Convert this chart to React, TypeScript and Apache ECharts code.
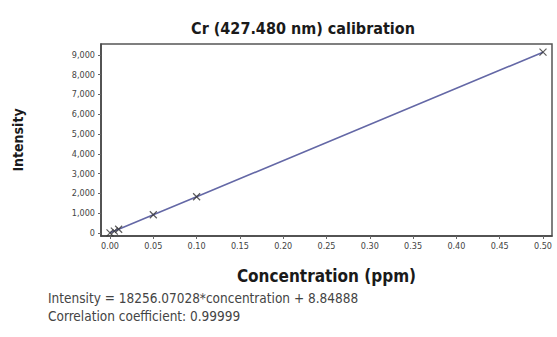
import React, { useEffect, useRef } from "react";
import * as echarts from "echarts";

const concentrations = [0, 0.005, 0.01, 0.05, 0.1, 0.5];
const intensities = [9, 100, 191, 922, 1835, 9137];
const titleText = "Cr (427.480 nm) calibration";
const xName = "Concentration (ppm)";
const yName = "Intensity";
const equationText = "Intensity = 18256.07028*concentration + 8.84888";
const correlationText = "Correlation coefficient: 0.99999";

const FONT = "'Liberation Sans Narrow', 'DejaVu Sans Condensed', 'Arial Narrow', sans-serif";

export default function App() {
  const ref = useRef<HTMLDivElement>(null);
  useEffect(() => {
    if (!ref.current) return;
    const chart = echarts.init(ref.current, undefined, { renderer: "svg" });
    const pts = concentrations.map((c, i) => [c, intensities[i]]);
    chart.setOption({
      animation: false,
      backgroundColor: "#ffffff",
      textStyle: { fontFamily: FONT },
      grid: {
        left: 101,
        top: 44,
        right: 5,
        bottom: 101,
        show: true,
        borderColor: "#555",
        borderWidth: 1.5,
        backgroundColor: "transparent",
      },
      xAxis: {
        type: "value",
        min: -0.0104,
        max: 0.5104,
        splitNumber: 10,
        name: xName,
        nameLocation: "middle",
        nameGap: 31,
        nameTextStyle: { fontFamily: FONT, fontSize: 17, fontWeight: "bold", color: "#1a1a1a" },
        axisLine: { show: true, onZero: false, lineStyle: { color: "#444", width: 1.5 } },
        axisTick: { show: true, length: 3, lineStyle: { color: "#666" } },
        splitLine: { show: false },
        axisLabel: {
          showMinLabel: false,
          showMaxLabel: false,
          fontFamily: FONT,
          fontSize: 9,
          color: "#444",
          margin: 5,
          formatter: (v: number) => v.toFixed(2),
        },
      },
      yAxis: {
        type: "value",
        min: -150,
        max: 9550,
        splitNumber: 10,
        name: yName,
        nameLocation: "middle",
        nameGap: 76,
        nameTextStyle: { fontFamily: FONT, fontSize: 14, fontWeight: "bold", color: "#1a1a1a" },
        axisLine: { show: true, onZero: false, lineStyle: { color: "#444", width: 1.5 } },
        axisTick: { show: true, length: 3, lineStyle: { color: "#666" } },
        splitLine: { show: false },
        axisLabel: {
          showMinLabel: false,
          showMaxLabel: false,
          fontFamily: FONT,
          fontSize: 9,
          color: "#444",
          margin: 6,
          formatter: (v: number) => (v < 0 ? "" : v.toLocaleString("en-US")),
        },
      },
      series: [
        {
          type: "line",
          data: pts,
          showSymbol: false,
          lineStyle: { color: "#6468a6", width: 1.6 },
          z: 2,
        },
        {
          type: "scatter",
          data: pts,
          symbol: "path://M0,0L10,10M10,0L0,10",
          symbolSize: 7,
          itemStyle: { color: "transparent", borderColor: "#333", borderWidth: 1.2 },
          z: 3,
        },
      ],
      graphic: [
        {
          type: "text",
          x: 303,
          y: 28,
          style: {
            text: titleText,
            fontFamily: FONT,
            fontSize: 16,
            fontWeight: "bold",
            fill: "#1a1a1a",
            align: "center",
            verticalAlign: "middle",
          },
        },
        {
          type: "text",
          x: 48,
          y: 298,
          style: { text: equationText, fontFamily: FONT, fontSize: 13.5, fill: "#444", verticalAlign: "middle" },
        },
        {
          type: "text",
          x: 48,
          y: 316,
          style: { text: correlationText, fontFamily: FONT, fontSize: 13.5, fill: "#444", verticalAlign: "middle" },
        },
      ],
    });
    return () => chart.dispose();
  }, []);
  return (
    <div
      ref={ref}
      style={{ position: "absolute", left: 0, top: 0, width: 557, height: 337 }}
    />
  );
}
